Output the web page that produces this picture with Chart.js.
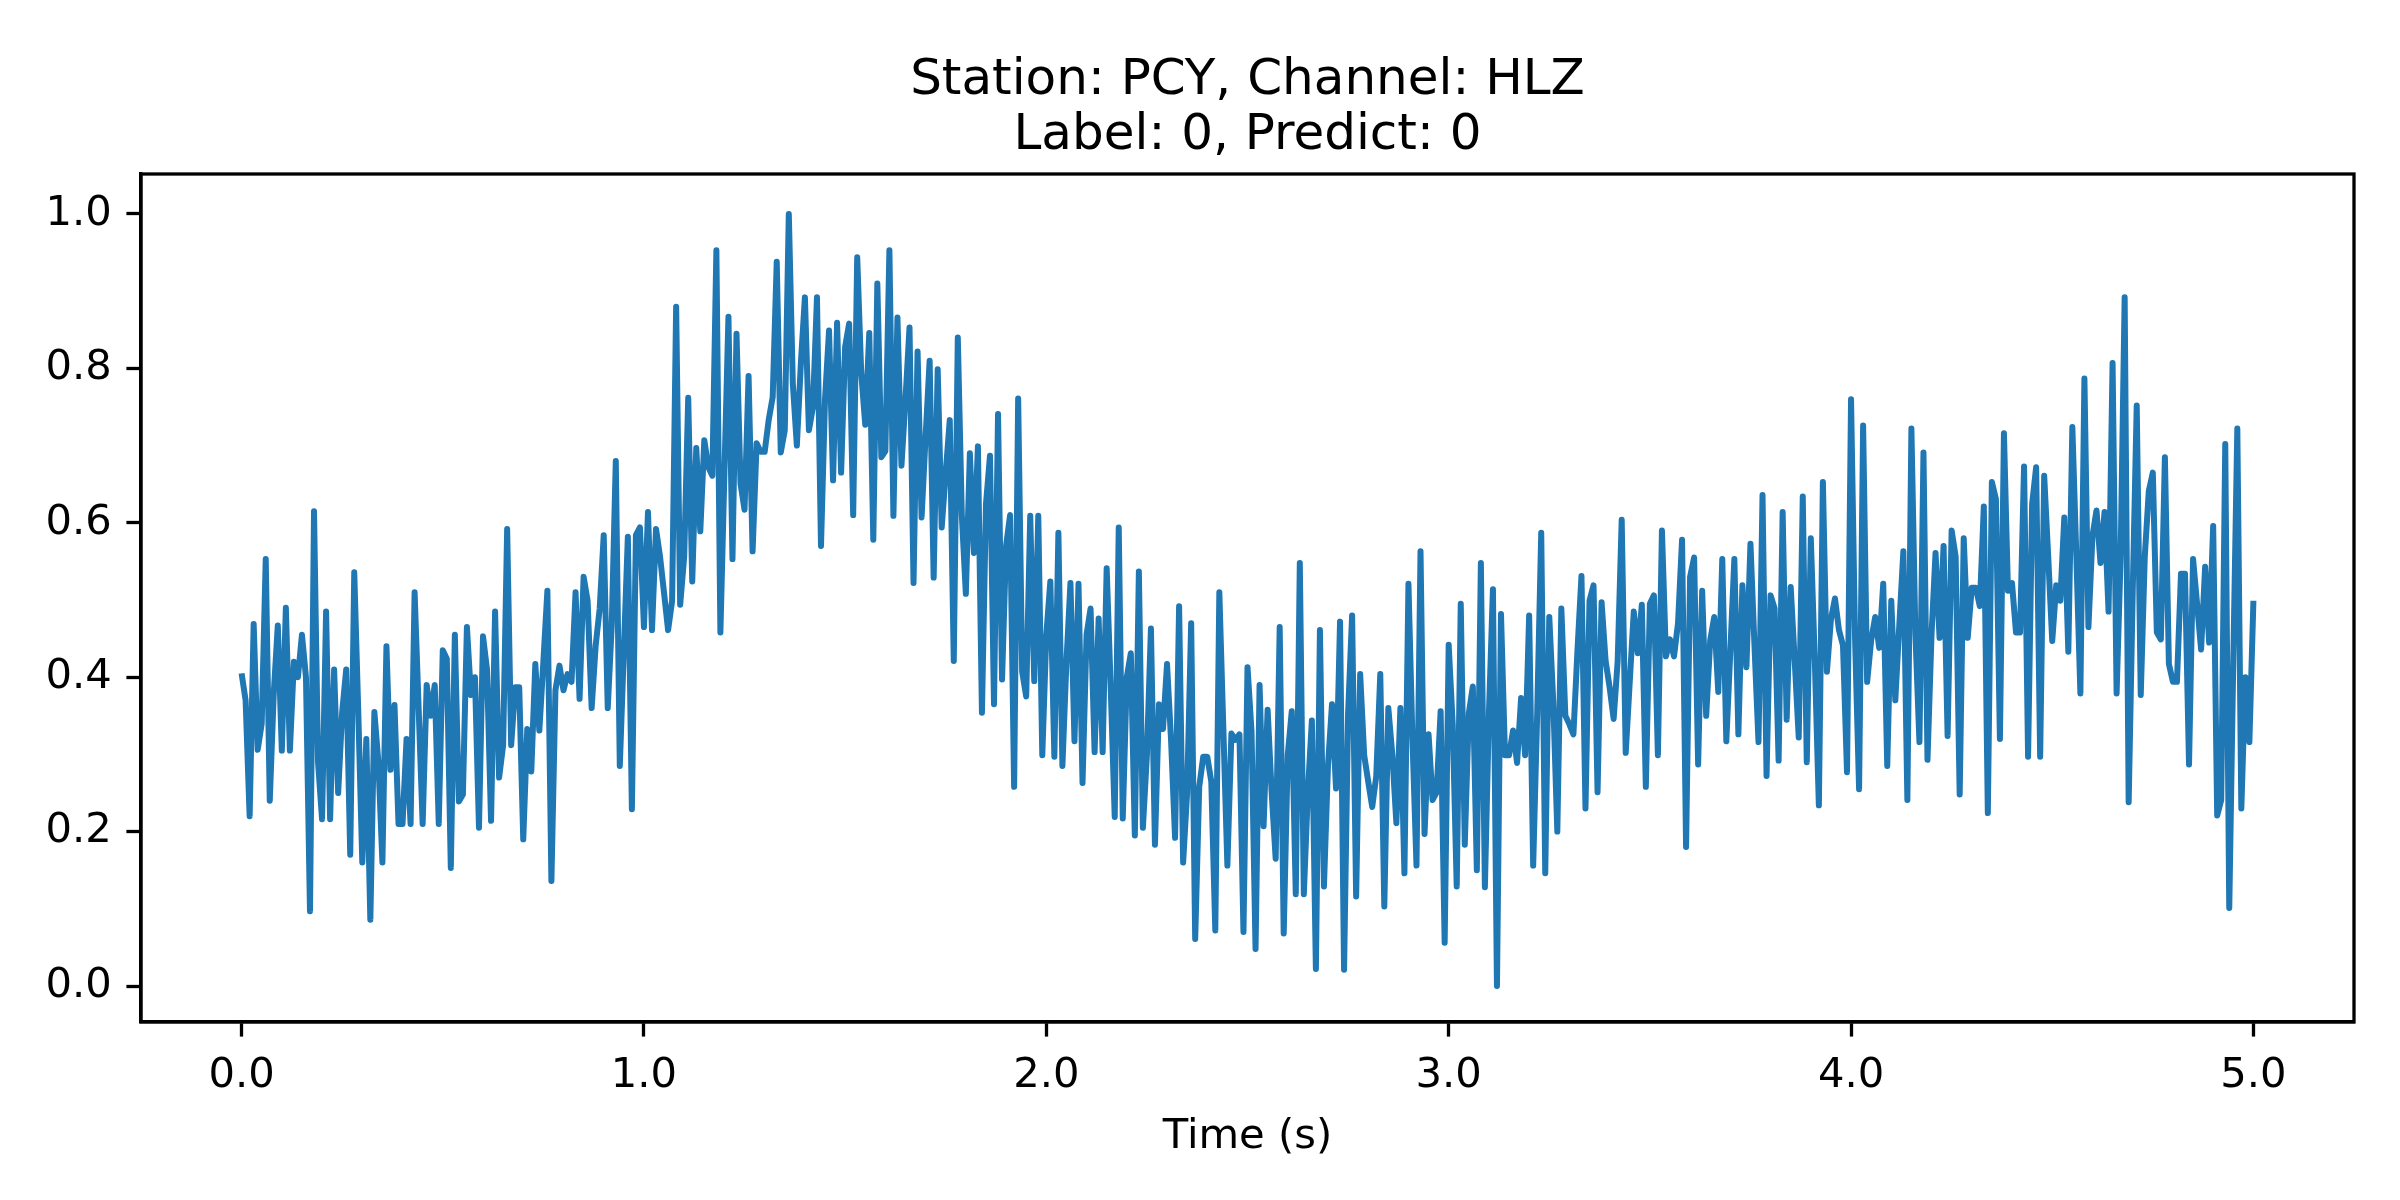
<!DOCTYPE html>
<html>
<head>
<meta charset="utf-8">
<script src="https://cdn.jsdelivr.net/npm/chart.js@4.4.1/dist/chart.umd.min.js"></script>
<style>
  html, body { margin: 0; padding: 0; background: #ffffff; }
  #c { display: block; width: 2400px; height: 1200px; }
</style>
</head>
<body>
<canvas id="c" width="2400" height="1200"></canvas>
<script>
// ---- Data ----
const titleLines = ['Station: PCY, Channel: HLZ', 'Label: 0, Predict: 0'];
const xAxisTitle = 'Time (s)';
const sampleRate = 100; // samples per second
const xTickValues = [0, 1, 2, 3, 4, 5];
const yTickValues = [0, 0.2, 0.4, 0.6, 0.8, 1.0];

// amplitude, 0.00 s - 0.99 s
const amp0 = [
  0.405, 0.37, 0.22, 0.469, 0.306, 0.34, 0.553, 0.24, 0.38, 0.467,
  0.305, 0.49, 0.305, 0.42, 0.40, 0.455, 0.40, 0.097, 0.615, 0.29,
  0.216, 0.485, 0.216, 0.41, 0.25, 0.355, 0.41, 0.17, 0.536, 0.355,
  0.16, 0.32, 0.086, 0.355, 0.29, 0.16, 0.44, 0.28, 0.364, 0.21,
  0.21, 0.32, 0.21, 0.51, 0.36, 0.21, 0.39, 0.35, 0.39, 0.21,
  0.435, 0.424, 0.153, 0.455, 0.239, 0.248, 0.465, 0.377, 0.40, 0.205,
  0.453, 0.41, 0.214, 0.485, 0.27, 0.312, 0.592, 0.312, 0.387, 0.387,
  0.19, 0.333, 0.278, 0.417, 0.331, 0.42, 0.512, 0.136, 0.383, 0.415,
  0.383, 0.404, 0.394, 0.51, 0.372, 0.53, 0.499, 0.36, 0.441, 0.489,
  0.584, 0.36, 0.468, 0.68, 0.285, 0.434, 0.582, 0.229, 0.584, 0.594
];
// amplitude, 1.00 s - 1.99 s
const amp1 = [
  0.465, 0.614, 0.461, 0.592, 0.556, 0.509, 0.461, 0.499, 0.88, 0.494,
  0.556, 0.762, 0.524, 0.697, 0.589, 0.707, 0.672, 0.661, 0.953, 0.458,
  0.665, 0.867, 0.553, 0.845, 0.651, 0.617, 0.79, 0.563, 0.703, 0.692,
  0.692, 0.733, 0.763, 0.938, 0.691, 0.72, 1.0, 0.78, 0.70, 0.807,
  0.892, 0.72, 0.75, 0.892, 0.57, 0.76, 0.849, 0.655, 0.859, 0.665,
  0.828, 0.858, 0.61, 0.944, 0.794, 0.727, 0.846, 0.578, 0.91, 0.685,
  0.693, 0.953, 0.609, 0.866, 0.674, 0.76, 0.853, 0.522, 0.822, 0.607,
  0.712, 0.81, 0.529, 0.799, 0.594, 0.665, 0.733, 0.421, 0.84, 0.61,
  0.508, 0.69, 0.561, 0.699, 0.354, 0.624, 0.687, 0.365, 0.741, 0.397,
  0.57, 0.61, 0.258, 0.761, 0.407, 0.375, 0.609, 0.395, 0.609, 0.299
];
// amplitude, 2.00 s - 2.99 s
const amp2 = [
  0.455, 0.524, 0.297, 0.587, 0.285, 0.42, 0.522, 0.317, 0.521, 0.263,
  0.455, 0.489, 0.303, 0.476, 0.303, 0.541, 0.387, 0.219, 0.594, 0.217,
  0.40, 0.431, 0.195, 0.537, 0.205, 0.299, 0.463, 0.183, 0.365, 0.333,
  0.417, 0.319, 0.192, 0.492, 0.16, 0.251, 0.47, 0.061, 0.258, 0.297,
  0.297, 0.265, 0.072, 0.51, 0.333, 0.156, 0.327, 0.319, 0.326, 0.07,
  0.413, 0.33, 0.048, 0.39, 0.207, 0.358, 0.251, 0.165, 0.465, 0.068,
  0.299, 0.356, 0.119, 0.548, 0.119, 0.251, 0.344, 0.022, 0.461, 0.129,
  0.285, 0.365, 0.256, 0.472, 0.021, 0.353, 0.48, 0.116, 0.404, 0.299,
  0.265, 0.232, 0.272, 0.404, 0.103, 0.36, 0.299, 0.211, 0.36, 0.146,
  0.521, 0.319, 0.156, 0.563, 0.197, 0.326, 0.241, 0.251, 0.356, 0.056
];
// amplitude, 3.00 s - 3.99 s
const amp3 = [
  0.442, 0.339, 0.129, 0.495, 0.183, 0.353, 0.388, 0.15, 0.548, 0.128,
  0.353, 0.514, 0.0, 0.482, 0.299, 0.299, 0.331, 0.289, 0.373, 0.299,
  0.48, 0.156, 0.353, 0.587, 0.146, 0.478, 0.367, 0.2, 0.489, 0.35,
  0.339, 0.326, 0.434, 0.531, 0.23, 0.499, 0.519, 0.251, 0.497, 0.421,
  0.387, 0.346, 0.421, 0.604, 0.302, 0.394, 0.485, 0.431, 0.494, 0.258,
  0.495, 0.506, 0.299, 0.59, 0.427, 0.449, 0.427, 0.47, 0.578, 0.18,
  0.53, 0.555, 0.287, 0.512, 0.35, 0.448, 0.478, 0.381, 0.553, 0.317,
  0.434, 0.553, 0.326, 0.519, 0.413, 0.573, 0.441, 0.316, 0.636, 0.272,
  0.506, 0.489, 0.292, 0.614, 0.345, 0.517, 0.421, 0.322, 0.634, 0.29,
  0.58, 0.421, 0.234, 0.653, 0.407, 0.475, 0.502, 0.461, 0.441, 0.277
];
// amplitude, 4.00 s - 5.00 s
const amp4 = [
  0.76, 0.45, 0.255, 0.726, 0.394, 0.448, 0.478, 0.438, 0.521, 0.285,
  0.499, 0.37, 0.468, 0.563, 0.241, 0.722, 0.455, 0.316, 0.691, 0.293,
  0.455, 0.561, 0.451, 0.57, 0.324, 0.59, 0.556, 0.248, 0.58, 0.451,
  0.516, 0.516, 0.492, 0.621, 0.224, 0.653, 0.631, 0.32, 0.716, 0.512,
  0.522, 0.458, 0.458, 0.673, 0.297, 0.624, 0.672, 0.297, 0.661, 0.556,
  0.447, 0.519, 0.499, 0.607, 0.433, 0.724, 0.556, 0.379, 0.787, 0.465,
  0.583, 0.616, 0.548, 0.614, 0.485, 0.807, 0.379, 0.556, 0.892, 0.238,
  0.509, 0.752, 0.377, 0.556, 0.641, 0.665, 0.458, 0.449, 0.685, 0.417,
  0.394, 0.394, 0.534, 0.534, 0.287, 0.553, 0.495, 0.436, 0.543, 0.445,
  0.596, 0.221, 0.241, 0.702, 0.101, 0.421, 0.722, 0.23, 0.40, 0.316,
  0.499
];

// ---- Build chart ----
const amplitude = [].concat(amp0, amp1, amp2, amp3, amp4);
const points = amplitude.map((v, i) => ({ x: i / sampleRate, y: v }));

const FONT = "'DejaVu Sans', 'Liberation Sans', sans-serif";
const BLACK = '#000000';

const framePlugin = {
  id: 'frame',
  afterDraw(chart) {
    const { ctx, chartArea: a } = chart;
    ctx.save();
    ctx.strokeStyle = BLACK;
    ctx.lineWidth = 3.3;
    ctx.strokeRect(a.left, a.top, a.right - a.left, a.bottom - a.top);
    // title (two centred lines above the axes)
    ctx.fillStyle = BLACK;
    ctx.font = "50px " + FONT;
    ctx.textAlign = 'center';
    ctx.textBaseline = 'alphabetic';
    const cx = (a.left + a.right) / 2;
    ctx.fillText(titleLines[0], cx, 94);
    ctx.fillText(titleLines[1], cx, 149);
    ctx.restore();
  }
};

new Chart(document.getElementById('c'), {
  type: 'line',
  data: {
    datasets: [{
      data: points,
      borderColor: '#1f77b4',
      borderWidth: 6,
      pointRadius: 0,
      tension: 0,
      fill: false,
      borderJoinStyle: 'round',
      borderCapStyle: 'butt'
    }]
  },
  options: {
    responsive: false,
    devicePixelRatio: 1,
    animation: false,
    layout: { padding: { left: 0, top: 174, right: 46, bottom: 0 } },
    plugins: { legend: { display: false }, title: { display: false }, tooltip: { enabled: false } },
    scales: {
      x: {
        type: 'linear',
        min: -0.25,
        max: 5.25,
        afterFit: (s) => { s.height = 178; },
        afterBuildTicks: (s) => { s.ticks = xTickValues.map(v => ({ value: v })); },
        grid: { drawOnChartArea: false, drawTicks: true, tickLength: 14.6, tickWidth: 3.3, tickColor: BLACK },
        border: { display: true, color: BLACK, width: 3.3 },
        ticks: {
          color: BLACK, padding: 14.6, maxRotation: 0, autoSkip: false,
          font: { family: FONT, size: 41.7 },
          callback: (v) => Number(v).toFixed(1)
        },
        title: {
          display: true, text: xAxisTitle, color: BLACK,
          font: { family: FONT, size: 41.7, lineHeight: 1.2 },
          padding: { top: 0, bottom: 38 }
        }
      },
      y: {
        type: 'linear',
        min: -0.0466,
        max: 1.0518,
        afterFit: (s) => { s.width = 141; },
        afterBuildTicks: (s) => { s.ticks = yTickValues.map(v => ({ value: v })); },
        grid: { drawOnChartArea: false, drawTicks: true, tickLength: 14.6, tickWidth: 3.3, tickColor: BLACK },
        border: { display: true, color: BLACK, width: 3.3 },
        ticks: {
          color: BLACK, padding: 14.6, autoSkip: false,
          font: { family: FONT, size: 41.7 },
          callback: (v) => Number(v).toFixed(1)
        }
      }
    }
  },
  plugins: [framePlugin]
});
</script>
</body>
</html>
